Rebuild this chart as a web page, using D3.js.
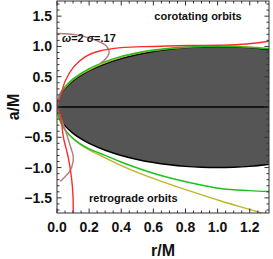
<!DOCTYPE html>
<html>
<head>
<meta charset="utf-8">
<script src="https://cdn.jsdelivr.net/npm/d3@7"></script>
<style>
  body { margin: 0; background: #fff; }
  text { font-family: "Liberation Sans", Arial, sans-serif; font-weight: bold; fill: #111; }
</style>
</head>
<body>
<div id="chart"></div>
<script>
const [width, height] = [273, 259];

// tick values
const xTicks = [0, 0.2, 0.4, 0.6, 0.8, 1.0, 1.2];
const yTicks = [-1.5, -1.0, -0.5, 0, 0.5, 1.0, 1.5];

// horizon region (shaded)
const horizonR  = [0, 0.005, 0.02, 0.05, 0.1, 0.15, 0.2, 0.3, 0.4, 0.5, 0.6, 0.7, 0.8, 0.9, 1.0, 1.1, 1.2, 1.3, 1.4];
const horizonUp = [0, 0.1, 0.199, 0.312, 0.436, 0.527, 0.6, 0.714, 0.8, 0.866, 0.917, 0.954, 0.98, 0.995, 1.0, 0.995, 0.98, 0.954, 0.917];
const horizonLo = [0, -0.1, -0.199, -0.312, -0.436, -0.527, -0.6, -0.714, -0.8, -0.866, -0.917, -0.954, -0.98, -0.995, -1.0, -0.995, -0.98, -0.954, -0.917];

// red curve
const redR = [1.36, 1.18, 1.0, 0.81, 0.6, 0.4, 0.26, 0.17, 0.1, 0.05, 0.025, 0.01, 0.0, 0.02, 0.04, 0.07, 0.09, 0.1, 0.1];
const redA = [1.1, 1.04, 1.02, 1.015, 1.0, 0.98, 0.92, 0.82, 0.65, 0.42, 0.21, 0.1, 0.0, -0.12, -0.5, -0.83, -1.16, -1.49, -1.85];

// green curve
const greenR = [1.36, 1.2, 1.0, 0.9, 0.8, 0.7, 0.6, 0.5, 0.4, 0.3, 0.2, 0.1, 0.05, 0.02, 0.005, 0.0,
                0.01, 0.04, 0.08, 0.14, 0.2, 0.3, 0.41, 0.62, 0.83, 1.03, 1.2, 1.36];
const greenA = [0.95, 0.985, 1.005, 1.0, 0.99, 0.97, 0.94, 0.895, 0.835, 0.75, 0.635, 0.465, 0.335, 0.215, 0.1, 0.0,
                -0.16, -0.34, -0.47, -0.6, -0.69, -0.8, -0.92, -1.11, -1.25, -1.35, -1.38, -1.4];

// yellow curve
const yellowR = [1.36, 1.2, 1.0, 0.8, 0.6, 0.4, 0.2, 0.1, 0.02, 0.0,
                 0.01, 0.04, 0.08, 0.14, 0.2, 0.3, 0.41, 0.62, 0.83, 1.03, 1.26, 1.32];
const yellowA = [0.96, 0.99, 1.01, 0.985, 0.93, 0.82, 0.615, 0.45, 0.21, 0.0,
                 -0.15, -0.33, -0.47, -0.61, -0.71, -0.84, -0.98, -1.2, -1.39, -1.56, -1.74, -1.8];

// brown curve (omega=2, sigma=.17), upper and lower branches
const brownUpR = [0.0, 0.05, 0.12, 0.2, 0.26, 0.31, 0.325, 0.305, 0.27];
const brownUpA = [1.215, 1.21, 1.19, 1.14, 1.08, 1.0, 0.9, 0.8, 0.72];
const brownLoR = [0.0, 0.015, 0.04, 0.08, 0.1, 0.1, 0.08, 0.05, 0.02];
const brownLoA = [-0.02, -0.12, -0.29, -0.62, -0.8, -0.9, -1.06, -1.15, -1.23];

// cyan curve near origin
const cyanR = [0.03, 0.018, 0.01, 0.004, 0.004, 0.012];
const cyanA = [0.27, 0.22, 0.14, 0.05, -0.05, -0.13];

const plot = { left: 57, right: 269, top: 1, bottom: 213 };

const svg = d3.select("#chart")
              .append("svg")
              .attr("width", width)
              .attr("height", height);

const x = d3.scaleLinear().domain([0, 1.32]).range([plot.left, plot.right]);
const y = d3.scaleLinear().domain([-1.75, 1.75]).range([plot.bottom, plot.top]);

svg.append("clipPath").attr("id", "clip")
   .append("rect")
   .attr("x", plot.left).attr("y", plot.top)
   .attr("width", plot.right - plot.left).attr("height", plot.bottom - plot.top);

const g = svg.append("g").attr("clip-path", "url(#clip)");

const line = d3.line()
               .x(d => x(d[0]))
               .y(d => y(d[1]))
               .curve(d3.curveCatmullRom.alpha(0.5));

const pts = (rs, as) => rs.map((r, i) => [r, as[i]]);

// shaded horizon
const upPts = pts(horizonR, horizonUp);
const loPts = pts(horizonR, horizonLo).reverse();
g.append("path")
 .attr("d", line(loPts.concat(upPts.slice(1))) + "Z")
 .attr("fill", "#555555")
 .attr("stroke", "#000")
 .attr("stroke-width", 1.4);

// a = 0 line
g.append("line")
 .attr("x1", x(0)).attr("x2", x(1.32))
 .attr("y1", y(0)).attr("y2", y(0))
 .attr("stroke", "#000").attr("stroke-width", 1.3);

const curves = [
  { r: yellowR, a: yellowA, color: "#bdb52a" },
  { r: greenR, a: greenA, color: "#1fbf1f" },
  { r: cyanR, a: cyanA, color: "#2ab5b5" },
  { r: brownUpR, a: brownUpA, color: "#b57b7b" },
  { r: brownLoR, a: brownLoA, color: "#b57b7b" },
  { r: redR, a: redA, color: "#ff2b2b" }
];

g.selectAll(".curve")
 .data(curves)
 .enter()
 .append("path")
 .attr("class", "curve")
 .attr("d", d => line(pts(d.r, d.a)))
 .attr("fill", "none")
 .attr("stroke", d => d.color)
 .attr("stroke-width", 1.4);

// frame and ticks on all four sides
const frame = svg.append("g").attr("stroke", "#333").attr("stroke-width", 1);
frame.append("rect")
     .attr("x", plot.left).attr("y", plot.top)
     .attr("width", plot.right - plot.left).attr("height", plot.bottom - plot.top)
     .attr("fill", "none");

const xMinor = d3.range(0, 1.321, 0.05);
const yMinor = d3.range(-1.7, 1.71, 0.1);

xMinor.forEach(v => {
  const major = xTicks.some(t => Math.abs(t - v) < 1e-6);
  const len = major ? 4.5 : 2.5;
  frame.append("line").attr("x1", x(v)).attr("x2", x(v)).attr("y1", plot.bottom).attr("y2", plot.bottom - len);
  frame.append("line").attr("x1", x(v)).attr("x2", x(v)).attr("y1", plot.top).attr("y2", plot.top + len);
});
yMinor.forEach(v => {
  const major = yTicks.some(t => Math.abs(t - v) < 1e-6);
  const len = major ? 4.5 : 2.5;
  frame.append("line").attr("y1", y(v)).attr("y2", y(v)).attr("x1", plot.left).attr("x2", plot.left + len);
  frame.append("line").attr("y1", y(v)).attr("y2", y(v)).attr("x1", plot.right).attr("x2", plot.right - len);
});

// tick labels
const fmt = v => d3.format(".1f")(v).replace("-", "\u2212");
svg.selectAll(".xlab")
   .data(xTicks)
   .enter()
   .append("text")
   .attr("class", "xlab")
   .attr("x", d => x(d))
   .attr("y", 232)
   .attr("text-anchor", "middle")
   .attr("font-size", 14)
   .text(fmt);

svg.selectAll(".ylab")
   .data(yTicks)
   .enter()
   .append("text")
   .attr("class", "ylab")
   .attr("x", 52)
   .attr("y", d => y(d) + 5)
   .attr("text-anchor", "end")
   .attr("font-size", 14)
   .text(fmt);

// axis titles
svg.append("text")
   .attr("x", 163).attr("y", 256)
   .attr("text-anchor", "middle")
   .attr("font-size", 16)
   .text("r/M");

svg.append("text")
   .attr("transform", "translate(19,107) rotate(-90)")
   .attr("text-anchor", "middle")
   .attr("font-size", 16)
   .text("a/M");

// annotations
svg.append("text")
   .attr("x", 198).attr("y", 20)
   .attr("text-anchor", "middle")
   .attr("font-size", 11)
   .text("corotating orbits");

svg.append("text")
   .attr("x", 89).attr("y", 202)
   .attr("font-size", 11)
   .text("retrograde orbits");

const lab = svg.append("text")
   .attr("x", 62).attr("y", 42)
   .attr("font-size", 11);
lab.append("tspan").attr("font-style", "italic").text("\u03c9");
lab.append("tspan").text("=2 ");
lab.append("tspan").attr("font-style", "italic").text("\u03c3");
lab.append("tspan").text("=.17");
</script>
</body>
</html>
